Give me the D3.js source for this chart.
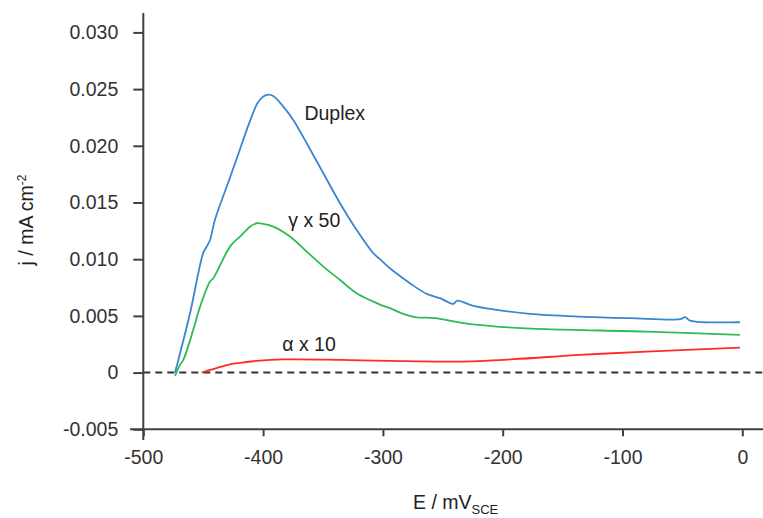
<!DOCTYPE html>
<html><head><meta charset="utf-8">
<script src="https://cdn.jsdelivr.net/npm/d3@7"></script>
<style>body{margin:0;background:#fff;}svg{display:block;font-family:"Liberation Sans",Arial,sans-serif;}</style>
</head><body>
<svg id="c" width="763" height="518"></svg>
<script>
const xTicks = [-500, -400, -300, -200, -100, 0];
const yTicks = [-0.005, 0, 0.005, 0.010, 0.015, 0.020, 0.025, 0.030];
const yTickLabels = ["-0.005", "0", "0.005", "0.010", "0.015", "0.020", "0.025", "0.030"];

const duplexE = [-473.5, -461, -449.9, -447.1, -444.3, -440.2, -427.6, -419.3, -410.9, -404.5, -399.8, -395.7, -391.5, -383.1, -374.8, -363.6, -349.7, -335.8, -321.9, -308, -302.4, -294.1, -291.3, -277.4, -263.4, -252.3, -241.2, -237.9, -224.5, -205, -177.2, -135.5, -93.7, -52, -47.8, -43.6, -2];
const duplexJ = [0, 0.00524, 0.01058, 0.01111, 0.01169, 0.01347, 0.0172, 0.0197, 0.0222, 0.0238, 0.02435, 0.02452, 0.0244, 0.02346, 0.02228, 0.02023, 0.01758, 0.01494, 0.01258, 0.01053, 0.01000, 0.0092, 0.00896, 0.00788, 0.00694, 0.00656, 0.00606, 0.00635, 0.00588, 0.00553, 0.00518, 0.00494, 0.0048, 0.00471, 0.00489, 0.00459, 0.00444];

const gammaE = [-473.5, -469.4, -466.6, -458.3, -452.6, -444.3, -441.6, -427.6, -419.3, -410.9, -405.3, -399.8, -391.5, -377.6, -363.6, -349.7, -335.8, -321.9, -308, -302.4, -294.1, -283, -273.2, -256.5, -232.9, -205, -163.3, -79.8, -2];
const gammaJ = [-0.0003, 0.00068, 0.00112, 0.00377, 0.00582, 0.00803, 0.00832, 0.01111, 0.0120, 0.01287, 0.01317, 0.01311, 0.01287, 0.0120, 0.01067, 0.00935, 0.00817, 0.0070, 0.00626, 0.00600, 0.00568, 0.00518, 0.00489, 0.0048, 0.00436, 0.00406, 0.00383, 0.00362, 0.00332];

const alphaE = [-451.3, -427.6, -419.3, -405.3, -383.1, -335.8, -294.1, -238.4, -191, -135.5, -79.8, -2];
const alphaJ = [0, 0.00072, 0.00086, 0.00103, 0.00116, 0.00112, 0.00103, 0.00097, 0.00118, 0.00156, 0.00185, 0.0022];

const seriesNames = ["Duplex", "γ x 50", "α x 10"];
const seriesColors = ["#3a86d2", "#2fbb55", "#ff2a2a"];

const svg = d3.select("#c");
const x = d3.scaleLinear().domain([-500, 0]).range([143.3, 742.3]);
const y = d3.scaleLinear().domain([-0.005, 0.030]).range([429.3, 32.4]);
const axisColor = "#404040";
const fs = 19.5;

// Zero dashed line
svg.append("line").attr("x1", x(-500)).attr("x2", 763).attr("y1", y(0)).attr("y2", y(0))
  .attr("stroke", "#333").attr("stroke-width", 2).attr("stroke-dasharray", "7,5");

// Y axis
const gy = svg.append("g").attr("transform", `translate(${x(-500)},0)`)
  .call(d3.axisLeft(y).tickValues(yTicks).tickSize(10).tickPadding(15)
    .tickFormat((d, i) => yTickLabels[i]));
gy.select(".domain").remove();
gy.selectAll(".tick line").attr("stroke", axisColor).attr("stroke-width", 2);
gy.selectAll(".tick text").attr("font-size", fs).attr("fill", "#333").attr("font-family", "Liberation Sans, Arial, sans-serif");

// X axis
const gx = svg.append("g").attr("transform", `translate(0,${y(-0.005)})`)
  .call(d3.axisBottom(x).tickValues(xTicks).tickSize(7).tickPadding(14).tickFormat(d => String(d)));
gx.select(".domain").remove();
gx.selectAll(".tick line").attr("stroke", axisColor).attr("stroke-width", 2);
gx.selectAll(".tick text").attr("font-size", fs).attr("fill", "#333").attr("font-family", "Liberation Sans, Arial, sans-serif");

// axis lines (crossing)
svg.append("line").attr("x1", x(-500)).attr("x2", x(-500)).attr("y1", 13).attr("y2", 440)
  .attr("stroke", axisColor).attr("stroke-width", 2);
svg.append("line").attr("x1", 130).attr("x2", 763).attr("y1", y(-0.005)).attr("y2", y(-0.005))
  .attr("stroke", axisColor).attr("stroke-width", 2);

// Series
const series = [
  {E: duplexE, J: duplexJ},
  {E: gammaE, J: gammaJ},
  {E: alphaE, J: alphaJ}
];
const line = d3.line().x(d => x(d[0])).y(d => y(d[1])).curve(d3.curveCatmullRom.alpha(0.5));
series.forEach((s, i) => {
  const pts = s.E.map((e, k) => [e, s.J[k]]);
  svg.append("path").attr("d", line(pts)).attr("fill", "none")
    .attr("stroke", seriesColors[i]).attr("stroke-width", 1.8);
});

// Annotations
const labels = [
  {t: seriesNames[0], e: -365.5, j: 0.0223},
  {t: seriesNames[1], e: -379, j: 0.0128},
  {t: seriesNames[2], e: -384, j: 0.0019}
];
labels.forEach(l => {
  svg.append("text").attr("x", x(l.e)).attr("y", y(l.j)).attr("font-size", fs)
    .attr("fill", "#222").text(l.t);
});

// Axis titles
const xt = svg.append("text").attr("x", 413).attr("y", 509).attr("font-size", fs).attr("fill", "#222");
xt.append("tspan").text("E / mV");
xt.append("tspan").attr("dy", 5).attr("font-size", 13).text("SCE");

const yt = svg.append("text").attr("transform", "translate(33,220) rotate(-90)")
  .attr("text-anchor", "middle").attr("font-size", fs).attr("fill", "#222");
yt.append("tspan").text("j / mA cm");
yt.append("tspan").attr("dy", -7).attr("font-size", 12).text("-2");
</script>
</body></html>
